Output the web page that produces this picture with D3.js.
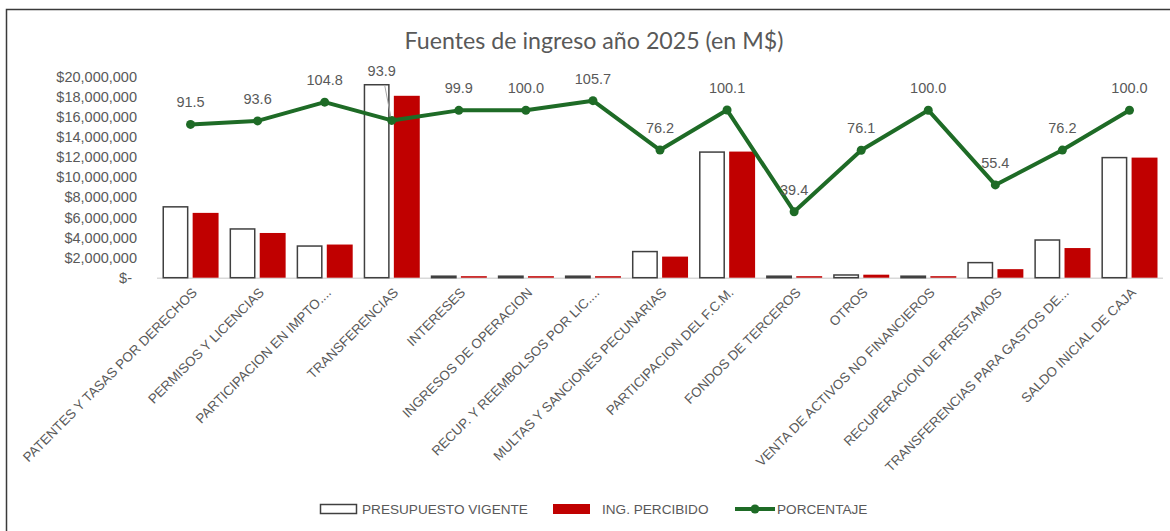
<!DOCTYPE html>
<html><head><meta charset="utf-8">
<script src="https://cdn.jsdelivr.net/npm/d3@7"></script>
<style>
html,body{margin:0;padding:0;background:#fff;}
svg{display:block;}
</style></head>
<body>
<svg id="chart" width="1170" height="531"></svg>
<script>
const categories = ["PATENTES Y TASAS POR DERECHOS","PERMISOS Y LICENCIAS","PARTICIPACION EN IMPTO....","TRANSFERENCIAS","INTERESES","INGRESOS DE OPERACION","RECUP. Y REEMBOLSOS POR LIC....","MULTAS Y SANCIONES PECUNARIAS","PARTICIPACION DEL F.C.M.","FONDOS DE TERCEROS","OTROS","VENTA DE ACTIVOS NO FINANCIEROS","RECUPERACION DE PRESTAMOS","TRANSFERENCIAS PARA GASTOS DE...","SALDO INICIAL DE CAJA"];
const presupuesto = [7050000,4850000,3150000,19200000,150000,150000,150000,2600000,12500000,150000,270000,150000,1500000,3750000,11950000];
const percibido   = [6450000,4450000,3300000,18100000,150000,150000,150000,2100000,12550000,150000,300000,150000,850000,2950000,11950000];
const porcentaje  = [91.5,93.6,104.8,93.9,99.9,100.0,105.7,76.2,100.1,39.4,76.1,100.0,55.4,76.2,100.0];
const yTicks = [0,2000000,4000000,6000000,8000000,10000000,12000000,14000000,16000000,18000000,20000000];
const seriesNames = ["PRESUPUESTO VIGENTE","ING. PERCIBIDO","PORCENTAJE"];
const title = "Fuentes de ingreso año 2025 (en M$)";

const svg = d3.select("#chart");
const grey = "#595959";
const red = "#C00000";
const green = "#1E6B26";
const font = "'Liberation Sans', Arial, sans-serif";

// outer border
svg.append("rect").attr("x",6.5).attr("y",9.5).attr("width",1200).attr("height",600)
  .attr("fill","none").attr("stroke","#3a3a3a").attr("stroke-width",1.5);

const x0 = 157, x1 = 1163, yBottom = 277.7, yTop = 76.7;
const x = d3.scaleBand().domain(categories).range([x0,x1]).padding(0);
const xs = d3.scaleBand().domain(["p","r"]).range([5.5, x.bandwidth()-5.5]).paddingInner(0.14);
const y = d3.scaleLinear().domain([0,20000000]).range([yBottom,yTop]);
const y2 = d3.scaleLinear().domain([0,120]).range([yBottom,yTop]);

// title
svg.append("text").attr("x",594).attr("y",49).attr("text-anchor","middle")
  .attr("font-family","Lato, 'Open Sans', sans-serif").attr("font-size",23.2).attr("fill",grey)
  .text(title);

// y axis labels
const yAxis = d3.axisLeft(y).tickValues(yTicks).tickSize(0).tickPadding(0)
  .tickFormat(d => d===0 ? "$-" : "$" + d3.format(",")(d));
const gy = svg.append("g").attr("transform",`translate(137,0)`).call(yAxis);
gy.select(".domain").remove();
gy.selectAll("text").attr("font-family",font).attr("font-size",14.5).attr("fill",grey)
  .attr("dx", d => d===0 ? -5 : 0);

// baseline
svg.append("line").attr("x1",x0).attr("x2",x1).attr("y1",yBottom+0.5).attr("y2",yBottom+0.5)
  .attr("stroke","#d9d9d9").attr("stroke-width",1.5);

// bars
const g = svg.append("g");
categories.forEach((c,i)=>{
  const bx = x(c);
  const hp = yBottom - y(presupuesto[i]);
  g.append("rect").attr("x",bx+xs("p")+0.75).attr("y",yBottom-hp).attr("width",xs.bandwidth()-1.5).attr("height",hp)
    .attr("fill","#fff").attr("stroke","#404040").attr("stroke-width",1.5);
  const hr = yBottom - y(percibido[i]);
  g.append("rect").attr("x",bx+xs("r")).attr("y",y(percibido[i])).attr("width",xs.bandwidth()).attr("height",hr)
    .attr("fill",red);
});

// x axis labels
const gx = svg.append("g");
categories.forEach((c)=>{
  const cx = x(c)+x.bandwidth()/2;
  gx.append("text").attr("transform",`translate(${cx+4},${290}) rotate(-45)`)
    .attr("text-anchor","end").attr("font-family",font).attr("font-size",13.4).attr("fill",grey)
    .attr("dy","0.35em").text(c);
});

// line
const pts = categories.map((c,i)=>[x(c)+x.bandwidth()/2, y2(porcentaje[i])]);
svg.append("path").attr("d",d3.line()(pts)).attr("fill","none").attr("stroke",green)
  .attr("stroke-width",4).attr("stroke-linejoin","round");
svg.selectAll(".pt").data(pts).enter().append("circle").attr("cx",d=>d[0]).attr("cy",d=>d[1])
  .attr("r",4.5).attr("fill",green);

// leader line for TRANSFERENCIAS label
const iT = 3;
svg.append("line").attr("x1",pts[iT][0]-7).attr("y1",pts[iT][1]-35).attr("x2",pts[iT][0]-1).attr("y2",pts[iT][1]-4)
  .attr("stroke","#a6a6a6").attr("stroke-width",1);

// data labels
svg.selectAll(".lbl").data(porcentaje).enter().append("text")
  .attr("x",(d,i)=>pts[i][0] - (i===iT?10:0))
  .attr("y",(d,i)=>pts[i][1] - (i===iT?44:17))
  .attr("text-anchor","middle").attr("font-family",font).attr("font-size",14.5).attr("fill",grey)
  .text(d=>d.toFixed(1));

// legend
const lg = svg.append("g").attr("font-family",font).attr("font-size",13.6).attr("fill",grey);
lg.append("rect").attr("x",320.5).attr("y",504.5).attr("width",36).attr("height",9).attr("fill","#fff").attr("stroke","#404040").attr("stroke-width",1.5);
lg.append("text").attr("x",362).attr("y",509).attr("dy","0.35em").text(seriesNames[0]);
lg.append("rect").attr("x",553).attr("y",504).attr("width",37).attr("height",10).attr("fill",red);
lg.append("text").attr("x",602).attr("y",509).attr("dy","0.35em").text(seriesNames[1]);
lg.append("line").attr("x1",735).attr("x2",775).attr("y1",509).attr("y2",509).attr("stroke",green).attr("stroke-width",4);
lg.append("circle").attr("cx",755).attr("cy",509).attr("r",4.5).attr("fill",green);
lg.append("text").attr("x",777).attr("y",509).attr("dy","0.35em").text(seriesNames[2]);
</script>
</body></html>
